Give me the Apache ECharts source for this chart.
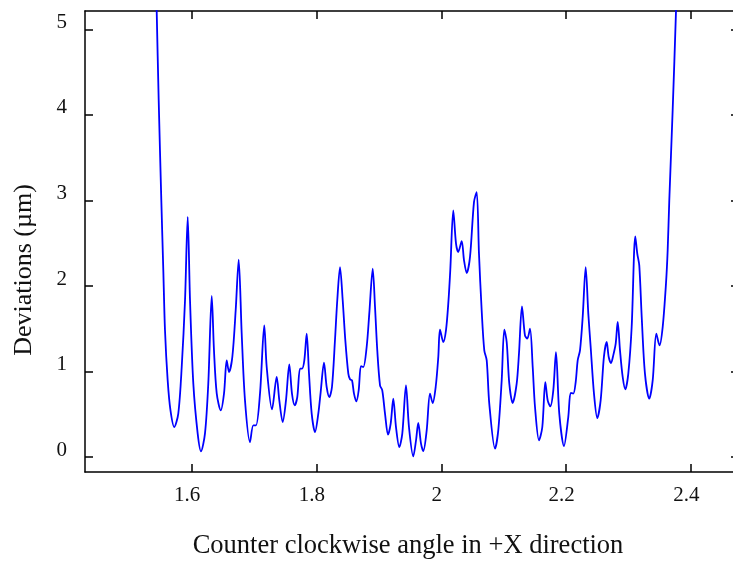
<!DOCTYPE html>
<html>
<head>
<meta charset="utf-8">
<script src="https://cdn.jsdelivr.net/npm/echarts@6/dist/echarts.min.js"></script>
<style>
  html, body { margin: 0; padding: 0; background: #fff; }
  #chart { width: 733px; height: 562px; }
</style>
</head>
<body>
<div id="chart"></div>
<script>
// Angle (rad) of each measured sample
const angle = [1.5425, 1.5439, 1.5471, 1.5513, 1.5545, 1.5572, 1.5615, 1.5660, 1.5721, 1.5785, 1.5840, 1.5893, 1.5936, 1.5973, 1.6026, 1.6096, 1.6149, 1.6213, 1.6266, 1.6321, 1.6357, 1.6401, 1.6465, 1.6518, 1.6561, 1.6598, 1.6651, 1.6705, 1.6753, 1.6801, 1.6854, 1.6934, 1.6987, 1.7030, 1.7095, 1.7163, 1.7202, 1.7287, 1.7362, 1.7404, 1.7458, 1.7511, 1.7564, 1.7607, 1.7651, 1.7692, 1.7736, 1.7768, 1.7805, 1.7843, 1.7880, 1.7923, 1.7976, 1.8029, 1.8067, 1.8120, 1.8163, 1.8205, 1.8248, 1.8296, 1.8333, 1.8377, 1.8420, 1.8462, 1.8510, 1.8537, 1.8569, 1.8601, 1.8638, 1.8676, 1.8713, 1.8750, 1.8804, 1.8846, 1.8901, 1.8938, 1.8974, 1.9018, 1.9054, 1.9098, 1.9146, 1.9189, 1.9231, 1.9274, 1.9327, 1.9375, 1.9434, 1.9482, 1.9551, 1.9595, 1.9631, 1.9675, 1.9712, 1.9766, 1.9819, 1.9862, 1.9910, 1.9952, 1.9979, 2.0032, 2.0075, 2.0112, 2.0144, 2.0192, 2.0236, 2.0272, 2.0327, 2.0364, 2.0407, 2.0460, 2.0524, 2.0567, 2.0604, 2.0647, 2.0689, 2.0728, 2.0769, 2.0861, 2.0913, 2.0968, 2.1010, 2.1048, 2.1090, 2.1144, 2.1208, 2.1245, 2.1293, 2.1341, 2.1378, 2.1422, 2.1465, 2.1502, 2.1566, 2.1619, 2.1667, 2.1705, 2.1747, 2.1795, 2.1838, 2.1891, 2.1966, 2.2035, 2.2074, 2.2115, 2.2154, 2.2186, 2.2223, 2.2266, 2.2314, 2.2356, 2.2394, 2.2447, 2.2500, 2.2554, 2.2607, 2.2651, 2.2683, 2.2720, 2.2756, 2.2795, 2.2827, 2.2864, 2.2907, 2.2949, 2.2997, 2.3051, 2.3109, 2.3141, 2.3173, 2.3212, 2.3264, 2.3333, 2.3388, 2.3446, 2.3497, 2.3548, 2.3601, 2.3628, 2.3654, 2.3708, 2.3761, 2.3776];

// Deviation (µm) at each angle
const deviation = [5.692, 5.216, 4.172, 3.002, 2.184, 1.482, 0.897, 0.546, 0.351, 0.508, 1.053, 1.833, 2.807, 1.833, 0.858, 0.274, 0.067, 0.277, 0.862, 1.883, 1.248, 0.745, 0.546, 0.745, 1.131, 0.994, 1.170, 1.716, 2.309, 1.447, 0.663, 0.175, 0.371, 0.371, 0.745, 1.540, 1.053, 0.558, 0.936, 0.663, 0.409, 0.663, 1.084, 0.742, 0.605, 0.702, 1.034, 1.034, 1.131, 1.443, 0.975, 0.508, 0.292, 0.508, 0.760, 1.104, 0.819, 0.702, 0.819, 1.365, 1.833, 2.222, 1.833, 1.365, 0.975, 0.909, 0.897, 0.742, 0.651, 0.780, 1.064, 1.053, 1.287, 1.677, 2.204, 1.754, 1.248, 0.839, 0.780, 0.508, 0.262, 0.391, 0.683, 0.351, 0.117, 0.274, 0.839, 0.351, 0.008, 0.195, 0.398, 0.157, 0.070, 0.312, 0.742, 0.632, 0.819, 1.170, 1.490, 1.345, 1.482, 1.794, 2.184, 2.885, 2.496, 2.398, 2.526, 2.301, 2.152, 2.339, 2.982, 3.099, 2.379, 1.716, 1.248, 1.131, 0.625, 0.098, 0.312, 0.897, 1.490, 1.345, 0.858, 0.632, 0.858, 1.209, 1.763, 1.423, 1.385, 1.502, 1.053, 0.585, 0.195, 0.351, 0.877, 0.663, 0.593, 0.780, 1.228, 0.508, 0.129, 0.468, 0.749, 0.742, 0.877, 1.131, 1.248, 1.637, 2.222, 1.677, 1.287, 0.742, 0.456, 0.663, 1.178, 1.345, 1.170, 1.099, 1.189, 1.326, 1.579, 1.248, 0.936, 0.792, 0.975, 1.520, 2.581, 2.379, 2.242, 1.637, 0.975, 0.683, 0.897, 1.443, 1.306, 1.520, 2.028, 2.418, 3.002, 4.055, 5.205, 5.692];

// Tick positions
const xTicks = [1.6, 1.8, 2, 2.2, 2.4];
const yTicks = [0, 1, 2, 3, 4, 5];

// Axis extents
const xRange = [1.429, 2.4675];
const yRange = [-0.175, 5.216];

const xTitle = 'Counter clockwise angle in +X direction';
const yTitle = 'Deviations (µm)';

const points = [];
for (let i = 0; i < Math.min(angle.length, deviation.length); i++) {
  points.push([angle[i], deviation[i]]);
}

const FONT = '"Liberation Serif", "DejaVu Serif", serif';
const INK = '#111';
const spine = { show: true, onZero: false, lineStyle: { color: '#000', width: 1.5 } };
const innerTick = (vals, len) => ({ show: true, inside: true, length: len, customValues: vals, lineStyle: { color: '#000', width: 1.5 } });

const chart = echarts.init(document.getElementById('chart'), null, { renderer: 'canvas' });
chart.setOption({
  animation: false,
  backgroundColor: '#fff',
  grid: { left: 85, top: 11, right: 0, bottom: 90, containLabel: false },
  xAxis: [
    {
      type: 'value', position: 'bottom', min: xRange[0], max: xRange[1],
      axisLine: spine, axisTick: innerTick(xTicks, 8), splitLine: { show: false },
      axisLabel: {
        customValues: xTicks, margin: 13, color: INK, fontFamily: FONT, fontSize: 21,
        align: 'center', padding: [0, 9, 0, 0], formatter: (v) => String(+v.toFixed(1))
      }
    },
    {
      type: 'value', position: 'top', min: xRange[0], max: xRange[1],
      axisLine: spine, axisTick: innerTick(xTicks, 8), splitLine: { show: false },
      axisLabel: { show: false }
    }
  ],
  yAxis: [
    {
      type: 'value', position: 'left', min: yRange[0], max: yRange[1],
      axisLine: spine, axisTick: innerTick(yTicks, 8), splitLine: { show: false },
      axisLabel: {
        customValues: yTicks, margin: 18, color: INK, fontFamily: FONT, fontSize: 21,
        verticalAlign: 'bottom', lineHeight: 14
      }
    },
    {
      type: 'value', position: 'right', min: yRange[0], max: yRange[1],
      axisLine: { show: false }, axisTick: innerTick(yTicks, 2), splitLine: { show: false },
      axisLabel: { show: false }
    }
  ],
  graphic: [
    {
      type: 'text', x: 408, y: 546,
      style: { text: xTitle, fill: INK, font: '26.5px ' + FONT, align: 'center', verticalAlign: 'middle' }
    },
    {
      type: 'text', x: 24, y: 270, rotation: Math.PI / 2,
      style: { text: yTitle, fill: INK, font: '26px ' + FONT, align: 'center', verticalAlign: 'middle' }
    }
  ],
  series: [
    {
      type: 'line', xAxisIndex: 0, yAxisIndex: 0, data: points,
      showSymbol: false, smooth: 0.3, clip: true,
      lineStyle: { color: '#0000ff', width: 1.8 }
    }
  ]
});
</script>
</body>
</html>
